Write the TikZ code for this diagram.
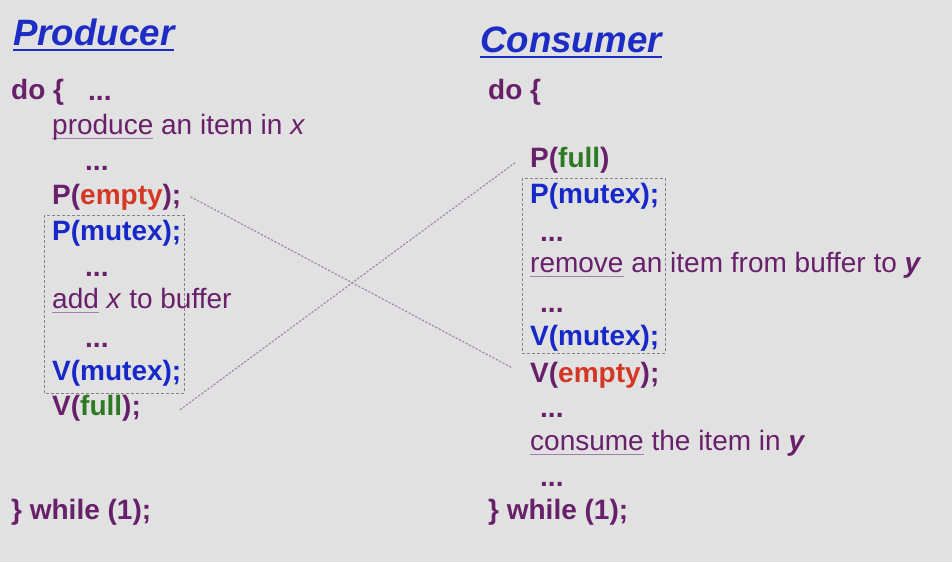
\documentclass[tikz,border=0pt]{standalone}
\usepackage{fontspec}
\setmainfont{Liberation Sans}
\usepackage{tikz}
\usetikzlibrary{calc}
\usepackage{xcolor}

\definecolor{slidebg}{RGB}{225,225,225}
\definecolor{codepurple}{RGB}{104,32,106}
\definecolor{titleblue}{RGB}{28,44,196}
\definecolor{mutexblue}{RGB}{22,40,200}
\definecolor{emptyred}{RGB}{212,56,36}
\definecolor{fullgreen}{RGB}{46,122,36}
\definecolor{ulpurple}{RGB}{160,128,168}
\definecolor{crossgrey}{RGB}{158,130,168}
\definecolor{boxgrey}{RGB}{140,126,146}

\newcommand{\underword}[4]{\setbox0=\hbox{#4}\rlap{\color{#1}\rule[-#3]{\wd0}{#2}}\box0\relax}

\begin{document}
\begin{tikzpicture}
      [x=1pt, y=-1pt,
      code line/.style={anchor=base west, inner sep=0pt, text=codepurple, font=\fontsize{28}{32}\selectfont},
      title line/.style={anchor=base west, inner sep=0pt, text=titleblue, font=\fontsize{36.7}{42}\selectfont\bfseries\itshape},
      cross line/.style={draw=crossgrey, line width=1.1pt, dash pattern=on 2.2pt off 1.6pt},
      mutex box/.style={draw=boxgrey, line width=0.9pt, dash pattern=on 3pt off 2pt}
      ]

      \fill[slidebg] (0,0) rectangle (952,562);

      % producer
      \node[title line] (prodtitle) at (13,45) {\underword{titleblue}{2.5pt}{6pt}{Producer}};
      \node[code line] (pdo) at (11,99) {\bfseries do \{};
      \node[code line] (pproduce) at (52,134) {\underword{ulpurple}{1.5pt}{5pt}{produce} an item in \textit{x}};
      \node[code line] (pempty) at (52,204) {\bfseries P(\textcolor{emptyred}{empty});};
      \node[code line, text=mutexblue] (pmutex) at (52,240) {\bfseries P(mutex);};
      \node[code line] (padd) at (52,308) {\underword{ulpurple}{1.5pt}{5pt}{add} \textit{x} to buffer};
      \node[code line, text=mutexblue] (pvmutex) at (52,380) {\bfseries V(mutex);};
      \node[code line] (pfull) at (52,415) {\bfseries V(\textcolor{fullgreen}{full});};
      \node[code line] (pwhile) at (11,519) {\bfseries \} while (1);};
      \draw[mutex box] (44,215) rectangle (184,393);

      % consumer
      \node[title line] (constitle) at (480,52) {\underword{titleblue}{2.5pt}{6pt}{Consumer}};
      \node[code line] (cdo) at (488,99) {\bfseries do \{};
      \node[code line] (cfull) at (530,167) {\bfseries P(\textcolor{fullgreen}{full})};
      \node[code line, text=mutexblue] (cmutex) at (530,203) {\bfseries P(mutex);};
      \node[code line] (cremove) at (530,272) {\underword{ulpurple}{1.5pt}{5pt}{remove} an item from buffer to \textbf{\textit{y}}};
      \node[code line, text=mutexblue] (cvmutex) at (530,345) {\bfseries V(mutex);};
      \node[code line] (cempty) at (530,382) {\bfseries V(\textcolor{emptyred}{empty});};
      \node[code line] (cconsume) at (530,450) {\underword{ulpurple}{1.5pt}{5pt}{consume} the item in \textbf{\textit{y}}};
      \node[code line] (cwhile) at (488,519) {\bfseries \} while (1);};
      \draw[mutex box] (522,178) rectangle (665,353);

      \foreach \n/\x/\y in {p0/88/100, p1/85/170, p2/85/276, p3/85/347, c1/540/241, c2/540/312, c3/540/417, c4/540/486}
        \node[code line] (dots\n) at (\x,\y) {\bfseries ...};

      \draw[cross line] ([xshift=9pt]pempty.east) -- ([xshift=-18pt, yshift=7pt]cempty.west);
      \draw[cross line] ([xshift=39pt, yshift=-2pt]pfull.east) -- ([xshift=-15pt, yshift=-3pt]cfull.west);
\end{tikzpicture}
\end{document}
